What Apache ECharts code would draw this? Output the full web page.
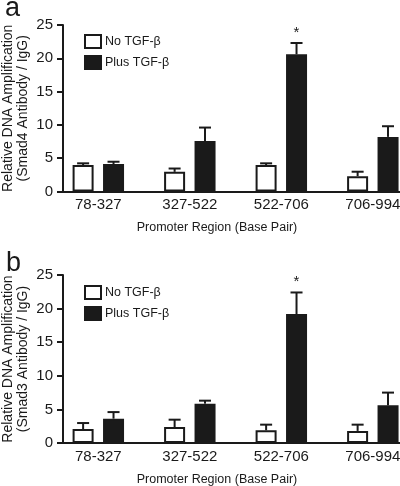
<!DOCTYPE html>
<html>
<head>
<meta charset="utf-8">
<script src="https://cdn.jsdelivr.net/npm/echarts@6/dist/echarts.min.js"></script>
<style>
html,body{margin:0;padding:0;background:#fff;}
#c{width:400px;height:486px;}
</style>
</head>
<body>
<div id="c"></div>
<script>
// ---- data ----
const categories = ['78-327', '327-522', '522-706', '706-994'];
const seriesNames = ['No TGF-\u03B2', 'Plus TGF-\u03B2'];
const yTicks = [0, 5, 10, 15, 20, 25];

// Panel a (Smad4)
const noTgfA = [3.97, 2.95, 3.97, 2.3];
const noTgfAErr = [4.23, 3.45, 4.23, 2.97];
const plusTgfA = [4.12, 7.57, 20.6, 8.2];
const plusTgfAErr = [4.47, 9.6, 22.3, 9.8];
const starsA = ['', '', '*', ''];

// Panel b (Smad3)
const noTgfB = [2.08, 2.38, 1.89, 1.8];
const noTgfBErr = [2.97, 3.47, 2.73, 2.73];
const plusTgfB = [3.62, 5.85, 19.2, 5.6];
const plusTgfBErr = [4.6, 6.3, 22.4, 7.5];
const starsB = ['', '', '*', ''];

// ---- styles ----
const FONT = "'Liberation Sans', Arial, Helvetica, sans-serif";
const INK = '#1a1a1a';
const BAR_W = 21;
const BAR_GAP = '45%';
const HALF_OFFSET = 15.2;

const chart = echarts.init(document.getElementById('c'), null, {renderer: 'canvas'});

function pairs(vals) { return vals.map((v, i) => [i, v]); }
function errData(vals, errs) { return vals.map((v, i) => [i, v, errs[i]]); }

function errSeries(gridIdx, vals, errs, stars, side) {
  return {
    type: 'custom',
    xAxisIndex: gridIdx, yAxisIndex: gridIdx,
    z: 5,
    silent: true,
    data: errData(vals, errs),
    renderItem: function (params, api) {
      const x = api.value(0), v = api.value(1), e = api.value(2);
      const p0 = api.coord([x, v]);
      const p1 = api.coord([x, e]);
      const cx = p0[0] + side * HALF_OFFSET;
      const children = [
        {type: 'line', shape: {x1: cx, y1: p0[1], x2: cx, y2: p1[1]}, style: {stroke: INK, lineWidth: 2}},
        {type: 'line', shape: {x1: cx - 6, y1: p1[1], x2: cx + 6, y2: p1[1]}, style: {stroke: INK, lineWidth: 2}}
      ];
      const s = stars[params.dataIndex];
      if (s) {
        children.push({type: 'text', style: {text: s, x: cx, y: p1[1] - 3, align: 'center', verticalAlign: 'bottom', font: '15px ' + FONT, fill: INK}});
      }
      return {type: 'group', children: children};
    }
  };
}

function xAxisCfg(gridIdx) {
  return {
    type: 'value', gridIndex: gridIdx,
    min: -0.386, max: 3.297,
    axisLine: {show: true, onZero: false, lineStyle: {color: INK, width: 2}},
    axisTick: {show: false},
    splitLine: {show: false},
    axisLabel: {
      customValues: [0, 1, 2, 3],
      formatter: function (v) { return categories[Math.round(v)]; },
      color: INK, fontSize: 15, fontFamily: FONT, margin: 6
    },
    name: 'Promoter Region (Base Pair)',
    nameLocation: 'middle',
    nameMoveOverlap: false,
    nameGap: 30,
    nameTextStyle: {color: INK, fontSize: 12.5, fontFamily: FONT, padding: [0, 29, 0, 0]}
  };
}

function yAxisCfg(gridIdx, name) {
  return {
    type: 'value', gridIndex: gridIdx,
    min: 0, max: 25, interval: 5,
    axisLine: {show: true, onZero: false, lineStyle: {color: INK, width: 2}},
    axisTick: {show: true, inside: false, length: 6, lineStyle: {color: INK, width: 2}},
    splitLine: {show: false},
    axisLabel: {
      customValues: yTicks,
      color: INK, fontSize: 15, fontFamily: FONT, margin: 10
    },
    name: name,
    nameLocation: 'middle',
    nameMoveOverlap: false,
    nameGap: 33,
    nameTextStyle: {color: INK, fontSize: 14, fontFamily: FONT, lineHeight: 14.5}
  };
}

function barSeries(gridIdx, nameIdx, vals) {
  const white = nameIdx === 0;
  return {
    type: 'bar',
    name: seriesNames[nameIdx],
    xAxisIndex: gridIdx, yAxisIndex: gridIdx,
    data: pairs(vals),
    barWidth: BAR_W,
    barGap: BAR_GAP,
    itemStyle: {color: white ? '#ffffff' : INK, borderColor: INK, borderWidth: 2},
    emphasis: {disabled: true}
  };
}

function legendCfg(top) {
  return {
    orient: 'vertical',
    left: 79, top: top,
    itemWidth: 16, itemHeight: 13,
    itemGap: 6,
    icon: 'rect',
    selectedMode: false,
    data: [
      {name: seriesNames[0], itemStyle: {color: '#ffffff', borderColor: INK, borderWidth: 2}},
      {name: seriesNames[1], itemStyle: {color: INK, borderColor: INK, borderWidth: 2}}
    ],
    textStyle: {color: INK, fontSize: 12.5, fontFamily: FONT, padding: [0, 0, 0, -1]}
  };
}

chart.setOption({
  animation: false,
  backgroundColor: '#ffffff',
  title: [
    {text: 'a', left: 0, top: -10, textStyle: {fontSize: 27, fontWeight: 'normal', color: INK, fontFamily: FONT}},
    {text: 'b', left: 1, top: 245, textStyle: {fontSize: 27, fontWeight: 'normal', color: INK, fontFamily: FONT}}
  ],
  legend: [legendCfg(29), legendCfg(280)],
  grid: [
    {left: 63, right: 0, top: 25, height: 166.5, containLabel: false, outerBoundsMode: 'none'},
    {left: 63, right: 0, top: 275, height: 168, containLabel: false, outerBoundsMode: 'none'}
  ],
  xAxis: [xAxisCfg(0), xAxisCfg(1)],
  yAxis: [
    yAxisCfg(0, 'Relative DNA Amplification\n(Smad4 Antibody / IgG)'),
    yAxisCfg(1, 'Relative DNA Amplification\n(Smad3 Antibody / IgG)')
  ],
  series: [
    barSeries(0, 0, noTgfA),
    barSeries(0, 1, plusTgfA),
    errSeries(0, noTgfA, noTgfAErr, ['', '', '', ''], -1),
    errSeries(0, plusTgfA, plusTgfAErr, starsA, 1),
    barSeries(1, 0, noTgfB),
    barSeries(1, 1, plusTgfB),
    errSeries(1, noTgfB, noTgfBErr, ['', '', '', ''], -1),
    errSeries(1, plusTgfB, plusTgfBErr, starsB, 1)
  ]
});
</script>
</body>
</html>
